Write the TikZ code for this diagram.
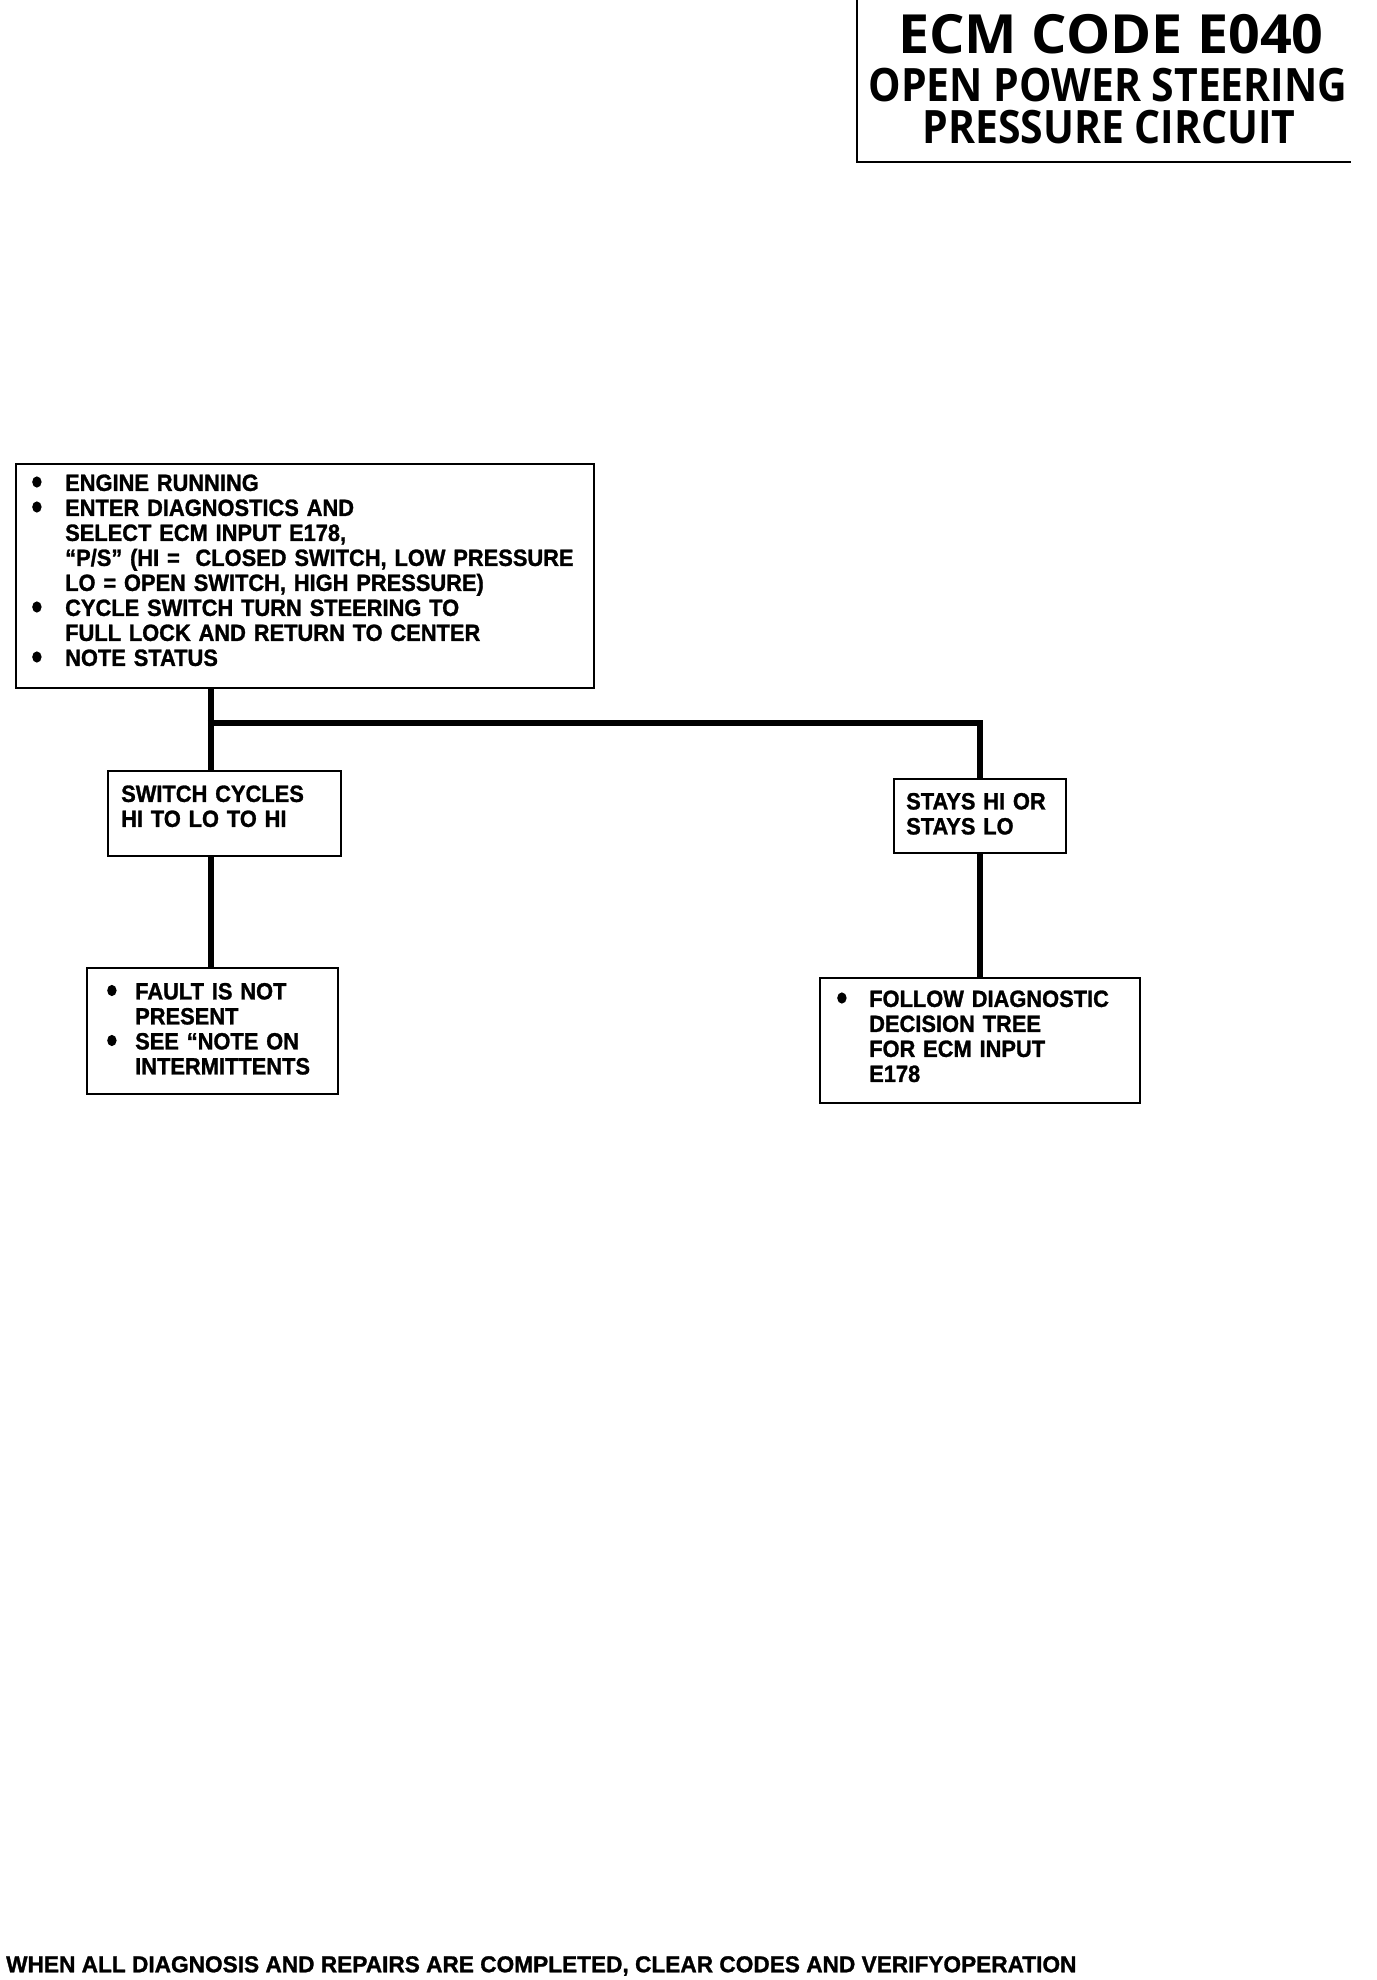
\documentclass[tikz,border=0pt]{standalone}
\usepackage{fontspec}
\setmainfont{Liberation Sans}
\newfontfamily\bodyf[FakeStretch=0.93,FakeBold=1.2]{Liberation Sans Bold}
\newfontfamily\footf[FakeStretch=0.985,FakeBold=1.2]{Liberation Sans Bold}
\newfontfamily\titlea[FakeStretch=1.03]{Open Sans Bold}
\newfontfamily\titleb[FakeStretch=0.89]{Open Sans Bold}
\newcommand{\bigdot}{\tikz[baseline=0pt]\fill[black] (0.2em,0.38em) ellipse (0.2em and 0.24em);}
\newcommand{\bitem}[2]{\makebox[#1][l]{\bigdot}#2}
\newcommand{\nitem}[2]{\hspace*{#1}#2}
\begin{document}
\begin{tikzpicture}[x=1pt,y=-1pt,
  box/.style={draw=black,line width=2.4pt,anchor=north west,inner sep=0pt,
    font=\bodyf\fontsize{23.5}{25}\selectfont,align=left},
  conn/.style={line width=6.5pt,draw=black},
  frame/.style={line width=2.4pt,draw=black}]
\useasboundingbox (0,0) rectangle (1376,1980);
% title
\draw[frame] (857,0) -- (857,162) -- (1351,162);
\node[font=\titlea\fontsize{54}{54}\selectfont,anchor=center,inner sep=0pt] (t1) at (1111,34) {ECM CODE E040};
\node[font=\titleb\fontsize{46}{46}\selectfont,anchor=center,inner sep=0pt] (t2) at (1108,85) {OPEN POWER STEERING};
\node[font=\titleb\fontsize{46}{46}\selectfont,anchor=center,inner sep=0pt] (t3) at (1109,127) {PRESSURE CIRCUIT};
% main box
\node[box,minimum width=578,minimum height=224,text width=578] (main) at (15,463) {%
\hspace*{16pt}\bitem{33pt}{ENGINE RUNNING}\\
\hspace*{16pt}\bitem{33pt}{ENTER DIAGNOSTICS AND}\\
\hspace*{16pt}\nitem{33pt}{SELECT ECM INPUT E178,}\\
\hspace*{16pt}\nitem{33pt}{“P/S” (HI = \ CLOSED SWITCH, LOW PRESSURE}\\
\hspace*{16pt}\nitem{33pt}{LO = OPEN SWITCH, HIGH PRESSURE)}\\
\hspace*{16pt}\bitem{33pt}{CYCLE SWITCH TURN STEERING TO}\\
\hspace*{16pt}\nitem{33pt}{FULL LOCK AND RETURN TO CENTER}\\
\hspace*{16pt}\bitem{33pt}{NOTE STATUS}\\[-13pt]\mbox{}};
% second level
\node[box,minimum width=233,minimum height=85,text width=233] (sw) at (107,770) {%
\hspace*{13pt}SWITCH CYCLES\\
\hspace*{13pt}HI TO LO TO HI\\[-10pt]\mbox{}};
\node[box,minimum width=172,minimum height=74,text width=172] (st) at (893,778) {%
\hspace*{12pt}STAYS HI OR\\
\hspace*{12pt}STAYS LO\\[-20pt]\mbox{}};
% third level
\node[box,minimum width=251,minimum height=126,text width=251] (fault) at (86,967) {%
\hspace*{20pt}\bitem{28pt}{FAULT IS NOT}\\
\hspace*{20pt}\nitem{28pt}{PRESENT}\\
\hspace*{20pt}\bitem{28pt}{SEE “NOTE ON}\\
\hspace*{20pt}\nitem{28pt}{INTERMITTENTS}\\[-20pt]\mbox{}};
\node[box,minimum width=320,minimum height=125,text width=320] (fol) at (819,977) {%
\hspace*{17pt}\bitem{32pt}{FOLLOW DIAGNOSTIC}\\
\hspace*{17pt}\nitem{32pt}{DECISION TREE}\\
\hspace*{17pt}\nitem{32pt}{FOR ECM INPUT}\\
\hspace*{17pt}\nitem{32pt}{E178}\\[-16pt]\mbox{}};
% connectors
\coordinate (j) at (211,723);
\draw[conn] (main.south -| j) -- (sw.north -| j);
\draw[conn] ([xshift=-3.25pt]j) -| (st.north);
\draw[conn] (sw.south -| j) -- (fault.north -| j);
\draw[conn] (st.south) -- (fol.north);
% footer
\node[anchor=west,inner sep=0pt,font=\footf\fontsize{23}{25}\selectfont] (foot) at (6,1966)
  {WHEN ALL DIAGNOSIS AND REPAIRS ARE COMPLETED, CLEAR CODES AND VERIFYOPERATION};
\end{tikzpicture}
\end{document}
